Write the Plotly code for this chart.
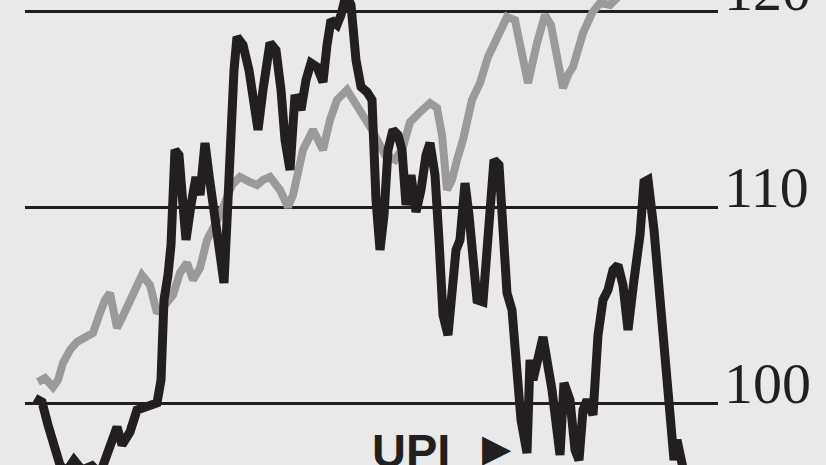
import plotly.graph_objects as go

# Day index (trading days from series start) and index values
dark_days = [0, 7, 13, 19, 25, 31, 39, 47, 57, 65, 73, 82, 87, 95, 102, 112, 122, 126, 129, 133, 136,
             140, 144, 148, 151, 156, 161, 165, 170, 174, 179, 184, 189, 193, 196, 199, 202, 208, 214, 219,
             223, 228, 235, 241, 246, 250, 255, 260, 266, 271, 276, 282, 288, 292, 296, 302, 306, 311, 316,
             321, 326, 332, 337, 341, 345, 349, 353, 358, 363, 367, 371, 376, 381, 386, 391, 395, 400, 404,
             408, 413, 417, 421, 425, 430, 434, 438, 442, 448, 453, 459, 464, 468, 472, 477, 482, 486, 492,
             495, 498, 503, 508, 517, 521, 525, 529, 535, 540, 544, 548, 552, 558, 563, 568, 573, 578, 583,
             588, 593, 599, 605, 609, 613, 619, 623, 626, 631, 635, 639, 642, 648, 652]
dark_vals = [100.27, 100.07, 98.90, 97.88, 96.86, 96.50, 97.11, 96.60, 96.81, 96.40, 97.62, 98.79, 97.88,
             98.54, 99.66, 99.81, 100.02, 101.19, 105.27, 106.54, 108.07, 112.92, 112.66, 110.11, 108.33,
             110.11, 111.54, 110.62, 113.27, 111.64, 109.60, 107.82, 106.14, 110.37, 114.96, 116.99, 118.68,
             118.27, 116.99, 115.47, 113.94, 115.98, 118.37, 118.01, 115.98, 113.43, 111.90, 115.72, 114.96,
             116.48, 117.35, 117.15, 116.38, 118.27, 119.54, 119.29, 119.80, 120.82, 120.31, 117.50, 116.13,
             115.87, 115.47, 110.37, 107.82, 109.60, 112.92, 113.94, 113.68, 112.92, 110.11, 111.64, 109.76,
             110.88, 112.66, 113.27, 111.64, 108.33, 104.50, 103.48, 105.78, 107.82, 108.33, 111.23, 109.60,
             107.82, 105.27, 105.17, 108.33, 112.41, 112.15, 108.84, 105.63, 104.76, 101.04, 99.15, 97.47,
             102.21, 101.19, 102.36, 103.38, 100.68, 98.49, 97.37, 101.04, 100.17, 97.62, 97.11, 99.66,
             100.17, 99.41, 103.48, 105.27, 105.78, 106.80, 107.05, 106.03, 103.74, 106.29, 108.58, 111.28,
             111.39, 108.84, 106.29, 104.25, 102.46, 99.15, 97.11, 98.13, 96.70]

grey_days = [3, 10, 18, 23, 28, 35, 42, 50, 58, 65, 70, 75, 82, 87, 93, 100, 107, 115, 122, 130, 138,
             145, 152, 158, 165, 172, 185, 197, 205, 215, 222, 228, 235, 245, 253, 258, 262, 268, 278, 283,
             288, 295, 302, 312, 325, 337, 350, 360, 368, 375, 385, 395, 402, 407, 412, 417, 422, 428, 437,
             445, 453, 462, 472, 480, 487, 493, 502, 510, 516, 522, 528, 533, 538, 548, 557, 565, 575, 585,
             595]
grey_vals = [101.09, 101.29, 100.83, 101.19, 102.06, 102.72, 103.13, 103.38, 103.59, 104.61, 105.27, 105.63,
             103.84, 104.35, 105.01, 105.78, 106.54, 106.03, 104.61, 105.01, 105.52, 106.65, 107.16, 106.29,
             106.90, 108.33, 109.60, 111.13, 111.54, 111.28, 111.13, 111.39, 111.54, 110.88, 110.01, 110.62,
             111.39, 112.92, 113.94, 113.43, 112.92, 114.45, 115.47, 115.98, 114.96, 113.94, 112.66, 112.41,
             113.07, 114.34, 114.85, 115.31, 115.06, 113.68, 110.88, 111.39, 112.41, 113.43, 115.47, 116.33,
             117.66, 118.68, 119.70, 119.54, 118.01, 116.33, 118.37, 119.80, 119.29, 117.86, 116.08, 116.74,
             117.15, 118.88, 119.90, 120.41, 120.31, 120.82, 121.58]

tick_vals = [100, 110, 120]
tick_text = ["100", "110", "120"]
label_text = "<b>UPI</b>"
arrow_text = "\u25B6"

fig = go.Figure()
fig.add_trace(go.Scatter(x=grey_days, y=grey_vals, mode="lines",
                         line=dict(color="#9a9a9a", width=8), hoverinfo="skip"))
fig.add_trace(go.Scatter(x=dark_days, y=dark_vals, mode="lines",
                         line=dict(color="#231f20", width=9), hoverinfo="skip"))

fig.add_annotation(x=335, y=99.05, xref="x", yref="y", text=label_text, showarrow=False,
                   xanchor="left", yanchor="top",
                   font=dict(family="Liberation Sans", size=47, color="#231f20"))
fig.add_annotation(x=445, y=98.95, xref="x", yref="y", text=arrow_text, showarrow=False,
                   xanchor="left", yanchor="top",
                   font=dict(family="DejaVu Sans", size=38, color="#231f20"))

fig.update_layout(
    width=826, height=465,
    margin=dict(l=25, r=108, t=0, b=0, autoexpand=False),
    paper_bgcolor="#e9e9e9", plot_bgcolor="#e9e9e9",
    showlegend=False,
    xaxis=dict(range=[-10, 683], showgrid=False, zeroline=False, showticklabels=False,
               showline=False, fixedrange=True, automargin=False),
    yaxis=dict(range=[96.857, 120.563], side="right", tickvals=tick_vals, ticktext=tick_text,
               showgrid=True, gridcolor="#231f20", gridwidth=3, zeroline=False, showline=False,
               ticks="", ticklabelstandoff=5, ticklabelshift=-21, ticklabeloverflow="allow",
               fixedrange=True, automargin=False,
               tickfont=dict(family="Liberation Serif", size=58, color="#231f20")),
)

fig.write_html("out.html", config={"displayModeBar": False, "staticPlot": True},
               post_script="document.body.style.margin='0px';document.body.style.overflow='hidden';")
